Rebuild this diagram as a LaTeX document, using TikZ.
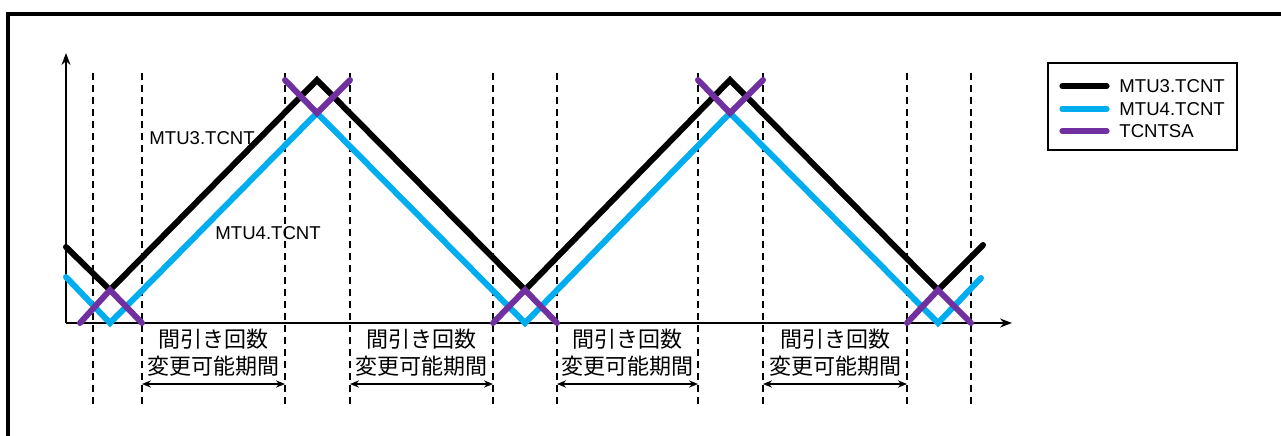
\documentclass[tikz,border=0pt]{standalone}
\usepackage{fontspec}
\setmainfont{Liberation Sans}
\newfontfamily\jpfont{Noto Sans CJK JP}
\usepackage{xcolor}
\usepackage{tikz}
\usetikzlibrary{arrows.meta}

\definecolor{mtublue}{RGB}{0,174,239}
\definecolor{sapurple}{RGB}{112,48,160}

\begin{document}
\begin{tikzpicture}[
    x=0.5pt, y=-0.5pt,
    frame/.style={line width=1.7pt, draw=black},
    axis/.style={-{Stealth[length=6pt,width=4.5pt]}, line width=0.75pt},
    guide/.style={dash pattern=on 3.5pt off 2.5pt, line width=0.6pt},
    cnt3/.style={line width=3pt, draw=black, line cap=round},
    cnt4/.style={line width=3pt, draw=mtublue, line cap=round},
    cntsa/.style={line width=3pt, draw=sapurple, line cap=round},
    spanarrow/.style={{Stealth[length=4.5pt,width=3.6pt]}-{Stealth[length=4.5pt,width=3.6pt]}, line width=0.7pt},
    lbl/.style={font=\fontsize{9.3}{11}\selectfont, inner sep=0pt},
    jplbl/.style={font=\jpfont\fontsize{11}{13.5}\selectfont, align=center, inner sep=0pt},
    legline/.style={line width=2.6pt, line cap=round}
]
\useasboundingbox (0,0) rectangle (1281,435);

% Frame
\draw[frame] (1300,14) -- (8,14) -- (8,450);

% Axes
\coordinate (origin) at (66,323);
\draw[axis] (origin) -- (66,53);
\draw[axis] (origin) -- (1012,323);

% Guides
\foreach \gx [count=\i] in {93,142,285,350,493,557,698,763,907,971} {
  \draw[guide] (\gx,73) -- (\gx,404);
  \coordinate (m\i) at (\gx,384);
}

% Counters
\draw[cnt3] (66,247) -- (110,290) -- (317,80) -- (525,290) -- (730,80) -- (938,290) -- (983,245);
\draw[cnt4] (66,277) -- (110,323) -- (317,113) -- (525,323) -- (730,113) -- (938,323) -- (981,278);
\draw[cntsa] (80,323) -- (110,290) -- (142,323);
\draw[cntsa] (285,80) -- (317,113) -- (350,80);
\draw[cntsa] (493,323) -- (525,290) -- (557,323);
\draw[cntsa] (698,80) -- (730,113) -- (763,80);
\draw[cntsa] (907,323) -- (938,290) -- (971,323);

% Labels
\node[lbl, anchor=west] (lab3) at (149,138) {MTU3.TCNT};
\node[lbl, anchor=west] (lab4) at (215,233) {MTU4.TCNT};

% Windows
\draw[spanarrow] (m2) -- (m3);
\draw[spanarrow] (m4) -- (m5);
\draw[spanarrow] (m6) -- (m7);
\draw[spanarrow] (m8) -- (m9);
\node[jplbl] (win1) at (213.5,353) {間引き回数\\変更可能期間};
\node[jplbl] (win2) at (421.5,353) {間引き回数\\変更可能期間};
\node[jplbl] (win3) at (627.5,353) {間引き回数\\変更可能期間};
\node[jplbl] (win4) at (835,353) {間引き回数\\変更可能期間};

% Legend
\draw[line width=0.6pt] (1048,63) rectangle (1237,150);
\draw[legline, black] (1062,86) -- (1107,86);
\draw[legline, mtublue] (1062,109) -- (1107,109);
\draw[legline, sapurple] (1062,131) -- (1107,131);
\node[lbl, anchor=west] (leg3) at (1119,86) {MTU3.TCNT};
\node[lbl, anchor=west] (leg4) at (1119,109) {MTU4.TCNT};
\node[lbl, anchor=west] (legsa) at (1119,131) {TCNTSA};

\end{tikzpicture}
\end{document}
